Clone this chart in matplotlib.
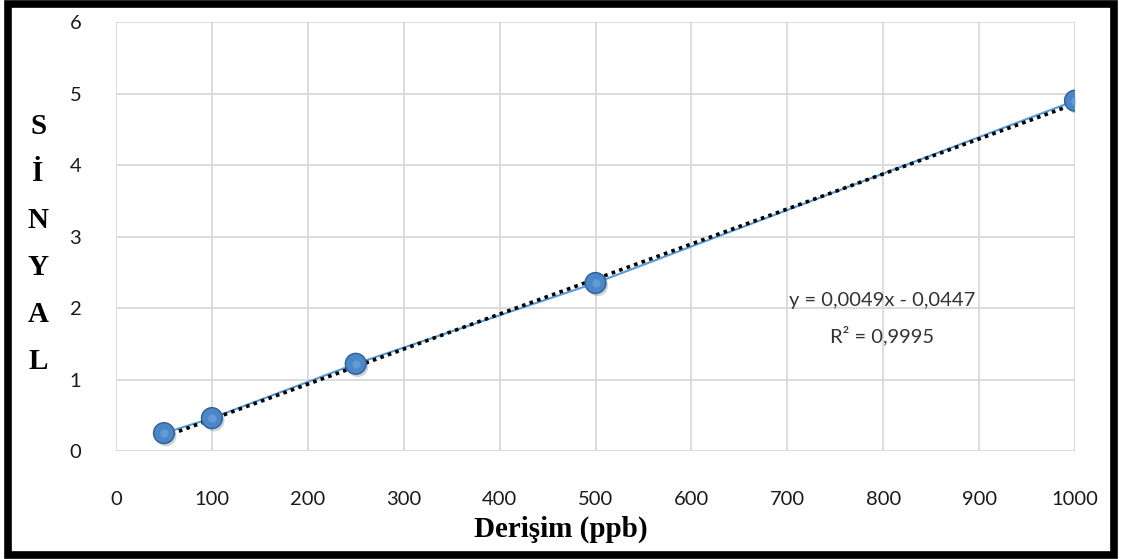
import numpy as np
import matplotlib.pyplot as plt
import matplotlib.patheffects as pe
from matplotlib.patches import Rectangle

# Calibration data (concentration in ppb vs signal)
derisim = [50, 100, 250, 500, 1000]
sinyal = [0.25, 0.46, 1.22, 2.35, 4.90]

# Trendline coefficients as printed on the chart
slope = 0.0049
intercept = -0.0447
r2 = 0.9995

xticks = np.arange(0, 1001, 100)
yticks = np.arange(0, 7, 1)

sans = ['Lato', 'DejaVu Sans']
serif = ['Liberation Serif', 'DejaVu Serif']

fig = plt.figure(figsize=(11.22, 5.59), dpi=100)
ax = fig.add_axes([0.1034, 0.1932, 0.8547, 0.7674])

ax.set_xlim(0, 1000)
ax.set_ylim(0, 6)
ax.set_xticks(xticks)
ax.set_yticks(yticks)
ax.grid(True, color='#d9d9d9', linewidth=1.3)
ax.set_axisbelow(True)
for s in ax.spines.values():
    s.set_visible(False)
ax.tick_params(length=0, labelsize=14.5, colors='#1a1a1a')
ax.tick_params(axis='x', pad=29)
ax.tick_params(axis='y', pad=25)
for lab in ax.get_xticklabels() + ax.get_yticklabels():
    lab.set_family(sans)

# data series line
ax.plot(derisim, sinyal, color='#5b9bd5', linewidth=1.5, zorder=2)

# linear trendline (dotted black)
xt = np.array([derisim[0], derisim[-1]])
ax.plot(xt, slope * xt + intercept, color='black', linestyle=(0, (1, 1.2)),
        linewidth=2.6, zorder=3)

# sphere-like markers with soft shadow
ax.plot(derisim, sinyal, linestyle='none', marker='o', markersize=15,
        markerfacecolor='#4a86c8', markeredgecolor='#2f5f96', markeredgewidth=1,
        zorder=4,
        path_effects=[pe.SimplePatchShadow(offset=(1.5, -2), alpha=0.2), pe.Normal()])
ax.plot(derisim, sinyal, linestyle='none', marker='o', markersize=6,
        markerfacecolor='#7fb0e6', markeredgecolor='none', alpha=0.5, zorder=5)

ax.text(799, 2.11, f"y = {slope:.4f}x - {abs(intercept):.4f}".replace('.', ','),
        ha='center', va='center', fontsize=14.5, color='#333333', family=sans)
ax.text(799, 1.62, f"R² = {r2:.4f}".replace('.', ','),
        ha='center', va='center', fontsize=14.5, color='#333333', family=sans)

fig.text(0.5, 0.053, "Derişim (ppb)", ha='center', va='center',
         fontsize=21, fontweight='bold', family=serif)
fig.text(0.034, 0.563, "S\nİ\nN\nY\nA\nL", ha='center', va='center',
         fontsize=21, fontweight='bold', linespacing=1.95, family=serif)

# thick black frame around the whole figure
fig.patches.append(Rectangle((0.0067, 0.0063), 0.9866, 0.9874, transform=fig.transFigure,
                             fill=False, edgecolor='black', linewidth=5.5))

fig.savefig('out.png', dpi=100)
